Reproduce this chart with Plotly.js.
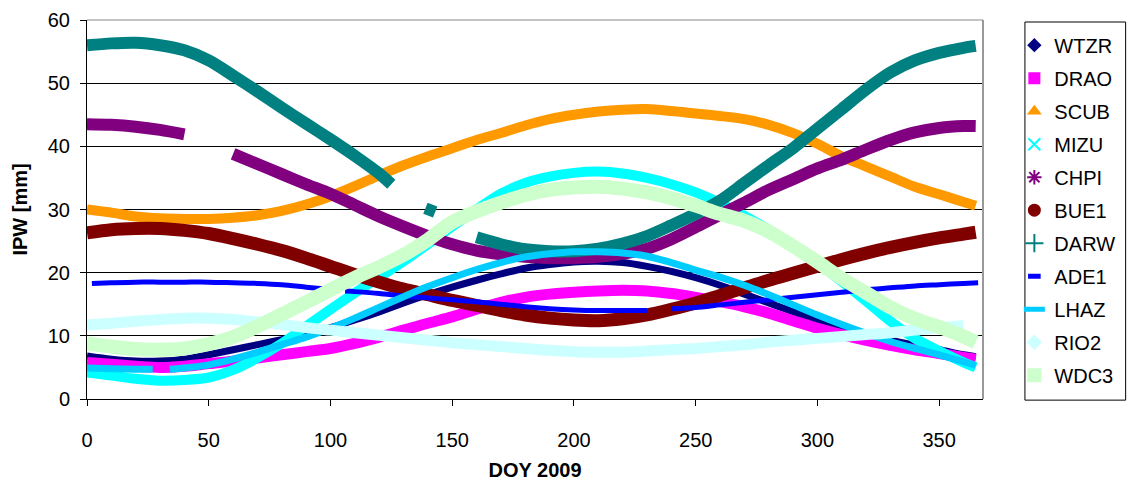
<!DOCTYPE html>
<html>
<head>
<meta charset="utf-8">
<script src="https://cdn.plot.ly/plotly-3.0.1.min.js"></script>
<style>html,body{margin:0;padding:0;background:#fff;}#chart{width:1132px;height:486px;}</style>
</head>
<body>
<div id="chart"></div>
<script>
// ---- data ----
var days = [0,10,20,30,40,50,60,70,80,90,100,110,120,130,140,150,160,170,180,190,200,210,220,230,240,250,260,270,280,290,300,310,320,330,340,350,360,365];

var WTZR = [6.8,6.3,6.0,6.0,6.3,7.0,7.8,8.6,9.4,10.3,11.3,12.5,13.8,15.2,16.5,17.7,18.8,19.8,20.7,21.3,21.7,21.8,21.6,21.0,20.2,19.2,18.0,16.6,15.2,13.8,12.4,11.2,10.2,9.3,8.5,7.8,7.0,6.7];
var DRAO = [5.8,5.5,5.2,5.0,5.2,5.6,6.0,6.5,7.0,7.5,8.0,8.8,9.8,10.9,12.0,13.0,14.2,15.3,16.1,16.6,16.9,17.1,17.2,17.1,16.7,16.1,15.4,14.6,13.6,12.4,11.2,10.2,9.3,8.5,7.8,7.2,6.6,6.3];
var SCUB = [30.0,29.5,28.9,28.6,28.5,28.5,28.7,29.1,29.8,30.8,32.1,33.7,35.4,37.0,38.4,39.7,41.0,42.1,43.3,44.3,45.0,45.5,45.8,45.9,45.6,45.2,44.8,44.3,43.4,42.1,40.4,38.4,36.8,35.2,33.6,32.4,31.2,30.6];
var MIZU = [4.2,3.7,3.2,2.9,3.0,3.4,4.6,6.5,8.8,11.5,14.2,16.8,19.3,21.8,24.5,27.3,30.0,32.5,34.2,35.2,35.8,36.0,35.7,35.0,34.0,32.7,31.0,29.0,26.8,24.2,21.5,18.6,15.5,12.3,9.6,7.6,5.8,5.0];
var CHPI = [43.5,43.4,43.1,42.6,41.9,null,38.8,37.2,35.6,34.0,32.5,30.7,28.9,27.3,25.8,24.5,23.5,22.9,22.5,22.3,22.3,22.5,23.0,23.8,25.3,27.2,29.2,31.1,33.1,34.8,36.5,37.9,39.5,41.0,42.2,42.9,43.2,43.2];
var BUE1 = [26.3,26.8,27.0,27.0,26.7,26.2,25.4,24.5,23.5,22.3,21.0,19.7,18.5,17.4,16.5,15.6,14.8,14.0,13.3,12.8,12.5,12.4,12.7,13.3,14.2,15.2,16.4,17.6,18.8,19.9,21.0,22.1,23.1,24.0,24.8,25.5,26.1,26.4];
var darwDays = [0,10,20,30,40,50,60,70,80,90,100,110,120,125,130,139,143,150,160,170,180,190,200,210,220,230,240,250,260,270,280,290,300,310,320,330,340,350,360,365];
var DARW = [56.0,56.3,56.4,56.0,55.2,53.6,51.2,48.7,46.1,43.6,41.1,38.5,35.7,34.0,null,30.2,29.6,null,25.6,24.5,23.7,23.4,23.4,23.8,24.6,25.8,27.5,29.3,31.4,34.2,37.0,39.7,42.8,45.9,49.0,51.7,53.6,54.8,55.6,55.9];
var adeDays = [2,10,20,30,40,50,60,70,80,90,98,102,106,110,120,130,140,150,160,170,180,190,200,210,220,230,234,240,250,260,270,280,290,300,310,320,330,340,350,360,366];
var ADE1 = [18.3,18.4,18.5,18.5,18.5,18.5,18.4,18.3,18.1,17.7,17.4,null,17.1,17.0,16.7,16.3,16.0,15.7,15.4,15.0,14.6,14.3,14.1,14.0,14.0,14.0,null,14.3,14.5,14.9,15.3,15.7,16.1,16.5,16.9,17.3,17.6,17.9,18.1,18.3,18.4];
var lhazDays = [0,10,20,27,30,34,40,50,60,70,80,90,100,110,120,130,140,150,160,170,180,190,200,210,220,230,240,250,260,270,280,290,300,310,320,330,340,350,360,365];
var LHAZ = [4.9,4.8,4.7,4.7,null,4.7,4.9,5.4,6.3,7.4,8.6,9.8,11.2,12.8,14.5,16.2,17.8,19.2,20.5,21.6,22.5,23.0,23.3,23.3,23.1,22.6,21.6,20.4,19.3,18.0,16.5,14.9,13.3,11.8,10.4,9.1,8.0,7.0,5.9,5.3];
var RIO2 = [11.7,12.0,12.3,12.6,12.8,12.8,12.6,12.2,11.8,11.3,10.9,10.5,10.1,9.7,9.3,8.9,8.6,8.3,8.0,7.7,7.5,7.4,7.4,7.6,7.8,8.0,8.3,8.6,9.0,9.3,9.6,9.9,10.2,10.5,10.9,11.3,11.6,null];
var WDC3 = [8.8,8.3,7.9,7.8,8.0,8.7,9.8,11.5,13.4,15.3,17.3,19.2,20.9,22.8,25.2,28.0,29.7,31.1,32.3,33.1,33.5,33.6,33.3,32.7,31.8,30.6,29.3,28.2,26.5,24.2,21.7,19.1,16.8,14.5,12.7,11.4,9.9,9.0];

var names = ["WTZR","DRAO","SCUB","MIZU","CHPI","BUE1","DARW","ADE1","LHAZ","RIO2","WDC3"];
var xs = [days,days,days,days,days,days,darwDays,adeDays,lhazDays,days,days];
var ys = [WTZR,DRAO,SCUB,MIZU,CHPI,BUE1,DARW,ADE1,LHAZ,RIO2,WDC3];

// ---- styles ----
var colors = ["#000080","#FF00FF","#FF9900","#00FFFF","#800080","#800000","#008080","#0000FF","#00CCFF","#CCFFFF","#CCFFCC"];
var widths = [7,11,10,10,12,13,12,5,7,11,14];
var symbols = ["diamond","square","triangle-up","x-thin","asterisk","circle","cross-thin","line-ew","line-ew","diamond","square"];
var msizes = [11,12,13,12,12,13,13,9,15,12,14];

var traces = [];
for (var i = 0; i < names.length; i++) {
  traces.push({
    x: xs[i], y: ys[i], type: "scatter", mode: "lines",
    line: {color: colors[i], width: widths[i], shape: "spline", smoothing: 0.8},
    connectgaps: false, showlegend: false, hoverinfo: "skip"
  });
}
for (var j = 0; j < names.length; j++) {
  var thin = (symbols[j] === "x-thin" || symbols[j] === "asterisk" || symbols[j] === "cross-thin" || symbols[j] === "line-ew");
  traces.push({
    x: [null], y: [null], type: "scatter", mode: "markers", name: names[j],
    legendgroup: "g" + j,
    marker: {symbol: symbols[j], size: msizes[j], color: colors[j],
             line: {color: colors[j], width: thin ? (symbols[j] === "line-ew" ? 5 : 2) : 0}}
  });
}

var font = "Arial, 'Liberation Sans', sans-serif";
var layout = {
  width: 1132, height: 486,
  margin: {l: 87, r: 147, t: 20, b: 87},
  paper_bgcolor: "#fff", plot_bgcolor: "#fff",
  font: {family: font, size: 20, color: "#000"},
  showlegend: true,
  legend: {
    x: 1.035, y: 0.985, xanchor: "left", yanchor: "top",
    bgcolor: "rgba(0,0,0,0)", borderwidth: 0,
    font: {family: font, size: 20, color: "#000"},
    tracegroupgap: 4, itemwidth: 30
  },
  xaxis: {
    range: [0, 368], tickvals: [0,50,100,150,200,250,300,350],
    showgrid: false, zeroline: false, showline: true, linecolor: "#000", linewidth: 1,
    ticks: "outside", ticklen: 6, tickcolor: "#000", ticklabelstandoff: 17,
    tickfont: {family: font, size: 20, color: "#000"},
    title: {text: "<b>DOY 2009</b>", font: {family: font, size: 20, color: "#000"}, standoff: 12}
  },
  yaxis: {
    range: [0, 60], dtick: 10,
    showgrid: true, gridcolor: "#000", gridwidth: 1,
    zeroline: false, showline: true, linecolor: "#000", linewidth: 1,
    ticks: "outside", ticklen: 6, tickcolor: "#000", ticklabelstandoff: 6,
    tickfont: {family: font, size: 20, color: "#000"},
    title: {text: "<b>IPW [mm]</b>", font: {family: font, size: 20, color: "#000"}, standoff: 14}
  },
  shapes: [
    {type: "line", xref: "paper", yref: "paper", x0: 1, x1: 1, y0: 0, y1: 1, line: {color: "#999", width: 2}},
    {type: "line", xref: "paper", yref: "paper", x0: 0, x1: 1, y0: 1, y1: 1, line: {color: "#888", width: 1}},
    {type: "rect", xref: "paper", yref: "paper", x0: 1.0468, x1: 1.1592, y0: -0.003, y1: 0.9947, line: {color: "#000", width: 1}, fillcolor: "rgba(0,0,0,0)"}
  ]
};

Plotly.newPlot("chart", traces, layout, {staticPlot: true, displayModeBar: false});
</script>
</body>
</html>
